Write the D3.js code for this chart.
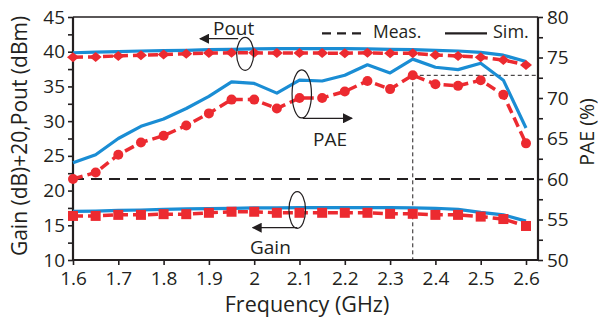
<!DOCTYPE html>
<html><head><meta charset="utf-8">
<script src="https://cdn.jsdelivr.net/npm/d3@7"></script>
<style>
body{margin:0;background:#fff}
svg text{font-family:"Open Sans",sans-serif;fill:#231f20}
</style>
</head><body>
<svg id="c" width="600" height="323"></svg>
<script>
const freq = [1.6,1.65,1.7,1.75,1.8,1.85,1.9,1.95,2.0,2.05,2.1,2.15,2.2,2.25,2.3,2.35,2.4,2.45,2.5,2.55,2.6];
const poutMeas = [39.2,39.25,39.4,39.5,39.6,39.7,39.8,39.85,39.85,39.8,39.8,39.8,39.77,39.85,39.77,39.77,39.53,39.38,39.2,38.8,38.1];
const poutSim  = [39.85,39.95,40.0,40.1,40.15,40.2,40.3,40.35,40.4,40.45,40.45,40.45,40.45,40.4,40.35,40.3,40.2,40.1,39.9,39.5,38.6];
const paeMeas  = [60.0,60.8,63.0,64.5,65.35,66.6,68.1,69.8,69.8,68.7,70.0,70.0,70.8,72.1,71.1,72.8,71.7,71.5,72.2,70.4,64.4];
const paeSim   = [62.0,63.0,65.0,66.5,67.4,68.7,70.2,72.0,71.8,70.6,72.2,72.1,72.8,74.1,73.1,74.8,73.8,73.5,74.3,72.2,66.3];
const gainMeas = [16.35,16.35,16.5,16.5,16.6,16.6,16.8,16.95,16.95,16.8,16.8,16.8,16.8,16.8,16.65,16.65,16.5,16.5,16.25,15.9,14.9];
const gainSim  = [17.0,17.05,17.15,17.2,17.3,17.35,17.4,17.45,17.5,17.5,17.55,17.55,17.55,17.55,17.55,17.5,17.45,17.3,16.85,16.5,15.6];
const xTicks = [1.6,1.7,1.8,1.9,2.0,2.1,2.2,2.3,2.4,2.5,2.6];
const leftTicks = [10,15,20,25,30,35,40,45];
const rightTicks = [50,55,60,65,70,75,80];
const xTitle = "Frequency (GHz)";
const yLeftTitle = "Gain (dB)+20,Pout (dBm)";
const yRightTitle = "PAE (%)";
const markFreq = 2.35, markPae = 72.8, refPae = 60;

const RED = "#ec2a30", BLUE = "#1a8dd4", INK = "#231f20";
const L = 73, R = 538, T = 17, B = 260;
const svg = d3.select("#c");
const x = d3.scaleLinear().domain([1.6, 2.6]).range([L, 526]);
const yL = d3.scaleLinear().domain([10, 45]).range([B, T]);
const yR = d3.scaleLinear().domain([50, 80]).range([B, T]);

// axes (majors labelled, minor ticks at half steps)
const minorL = d3.range(leftTicks[0], leftTicks[leftTicks.length - 1] + 0.01, 2.5);
const minorR = d3.range(rightTicks[0], rightTicks[rightTicks.length - 1] + 0.01, 2.5);
const fmtX = v => String(+v.toFixed(1));
const ax = svg.append("g").attr("transform", `translate(0,${B})`)
  .call(d3.axisBottom(x).tickValues(xTicks).tickFormat(fmtX).tickSize(5).tickSizeOuter(0).tickPadding(3));
const al = svg.append("g").attr("transform", `translate(${L},0)`)
  .call(d3.axisLeft(yL).tickValues(minorL).tickFormat(v => leftTicks.includes(v) ? v : "").tickSize(5).tickSizeOuter(0).tickPadding(3));
const ar = svg.append("g").attr("transform", `translate(${R},0)`)
  .call(d3.axisRight(yR).tickValues(minorR).tickFormat(v => rightTicks.includes(v) ? v : "").tickSize(5).tickSizeOuter(0).tickPadding(4));
[ax, al, ar].forEach(g => {
  g.select(".domain").remove();
  g.selectAll(".tick line").attr("stroke", INK).attr("stroke-width", 1.6);
  g.selectAll(".tick text").style("font-size", "19px").attr("fill", INK);
});
ax.selectAll(".tick text").attr("dy", "0.9em");
// frame
svg.append("line").attr("x1", L).attr("x2", R).attr("y1", T).attr("y2", T).attr("stroke", INK).attr("stroke-width", 1.5);
svg.append("line").attr("x1", L).attr("x2", R).attr("y1", B).attr("y2", B).attr("stroke", INK).attr("stroke-width", 2.2);
svg.append("line").attr("x1", L).attr("x2", L).attr("y1", T).attr("y2", B + 1).attr("stroke", INK).attr("stroke-width", 2.2);
svg.append("line").attr("x1", R).attr("x2", R).attr("y1", T).attr("y2", B + 1).attr("stroke", INK).attr("stroke-width", 2.2);

// reference dashed lines
svg.append("line").attr("x1", L).attr("x2", R).attr("y1", yR(refPae)).attr("y2", yR(refPae))
  .attr("stroke", INK).attr("stroke-width", 2.2).attr("stroke-dasharray", "11,7");
svg.append("line").attr("x1", x(markFreq)).attr("x2", x(markFreq)).attr("y1", yR(markPae)).attr("y2", B)
  .attr("stroke", INK).attr("stroke-width", 1).attr("stroke-dasharray", "4,3");
svg.append("line").attr("x1", x(markFreq)).attr("x2", R).attr("y1", yR(markPae)).attr("y2", yR(markPae))
  .attr("stroke", INK).attr("stroke-width", 1).attr("stroke-dasharray", "4,3");

// series
const lineL = d3.line().x((d, i) => x(freq[i])).y(d => yL(d));
const lineR = d3.line().x((d, i) => x(freq[i])).y(d => yR(d));
function simLine(data, ln) {
  svg.append("path").datum(data).attr("d", ln).attr("fill", "none").attr("stroke", BLUE)
    .attr("stroke-width", 3.2).attr("stroke-linejoin", "round");
}
function measLine(data, ln) {
  svg.append("path").datum(data).attr("d", ln).attr("fill", "none").attr("stroke", RED)
    .attr("stroke-width", 3.5).attr("stroke-dasharray", "10,5");
}
simLine(poutSim, lineL); simLine(paeSim, lineR); simLine(gainSim, lineL);
measLine(poutMeas, lineL); measLine(paeMeas, lineR); measLine(gainMeas, lineL);

svg.append("g").selectAll("path").data(poutMeas).join("path")
  .attr("d", "M-6,0L0,-5L6,0L0,5Z")
  .attr("transform", (d, i) => `translate(${x(freq[i])},${yL(d)})`).attr("fill", RED);
svg.append("g").selectAll("circle").data(paeMeas).join("circle")
  .attr("cx", (d, i) => x(freq[i])).attr("cy", d => yR(d)).attr("r", 5).attr("fill", RED);
svg.append("g").selectAll("rect").data(gainMeas).join("rect")
  .attr("x", (d, i) => x(freq[i]) - 5).attr("y", d => yL(d) - 5).attr("width", 10).attr("height", 10).attr("fill", RED);

// annotations
function ellipse(cx, cy, rx, ry) {
  svg.append("ellipse").attr("cx", cx).attr("cy", cy).attr("rx", rx).attr("ry", ry)
    .attr("fill", "none").attr("stroke", INK).attr("stroke-width", 1.2);
}
svg.append("defs").append("marker").attr("id", "ah").attr("viewBox", "0 0 10 10")
  .attr("refX", 9).attr("refY", 5).attr("markerWidth", 10).attr("markerHeight", 10)
  .attr("markerUnits", "userSpaceOnUse").attr("orient", "auto")
  .append("path").attr("d", "M0,0L10,5L0,10Z").attr("fill", INK);
function arrow(x1, y1, x2, y2) {
  svg.append("line").attr("x1", x1).attr("y1", y1).attr("x2", x2).attr("y2", y2)
    .attr("stroke", INK).attr("stroke-width", 1.2).attr("marker-end", "url(#ah)");
}
// Pout
ellipse(x(1.98), yL(39.7), 8.5, 16.5);
arrow(x(1.98) - 7, 38.7, 200, 38.7);
svg.append("text").attr("x", 213).attr("y", 34.5).style("font-size", "19px").text("Pout");
// PAE
ellipse(x(2.105), yR(70.5), 9.7, 24);
arrow(x(2.105) + 1, 118.3, 352, 118.3);
svg.append("text").attr("x", 313).attr("y", 146).style("font-size", "19px").text("PAE");
// Gain
ellipse(x(2.095), yL(17.2), 8.3, 18.3);
arrow(x(2.095), 227.7, 252.7, 227.7);
svg.append("text").attr("x", 250).attr("y", 253.5).style("font-size", "19px").text("Gain");

// legend
svg.append("line").attr("x1", 322).attr("x2", 366).attr("y1", 33.3).attr("y2", 33.3)
  .attr("stroke", INK).attr("stroke-width", 2.2).attr("stroke-dasharray", "9,6");
svg.append("text").attr("x", 373).attr("y", 38).style("font-size", "17.5px").text("Meas.");
svg.append("line").attr("x1", 445).attr("x2", 487).attr("y1", 33.3).attr("y2", 33.3)
  .attr("stroke", INK).attr("stroke-width", 2.2);
svg.append("text").attr("x", 493).attr("y", 38).style("font-size", "18px").text("Sim.");

// titles
svg.append("text").attr("x", 307).attr("y", 312).attr("text-anchor", "middle").style("font-size", "21.5px").text(xTitle);
svg.append("text").attr("transform", `translate(27,136) rotate(-90)`).attr("text-anchor", "middle").style("font-size", "21px").text(yLeftTitle);
svg.append("text").attr("transform", `translate(594,132) rotate(-90)`).attr("text-anchor", "middle").style("font-size", "19.5px").text(yRightTitle);
</script>
</body></html>
